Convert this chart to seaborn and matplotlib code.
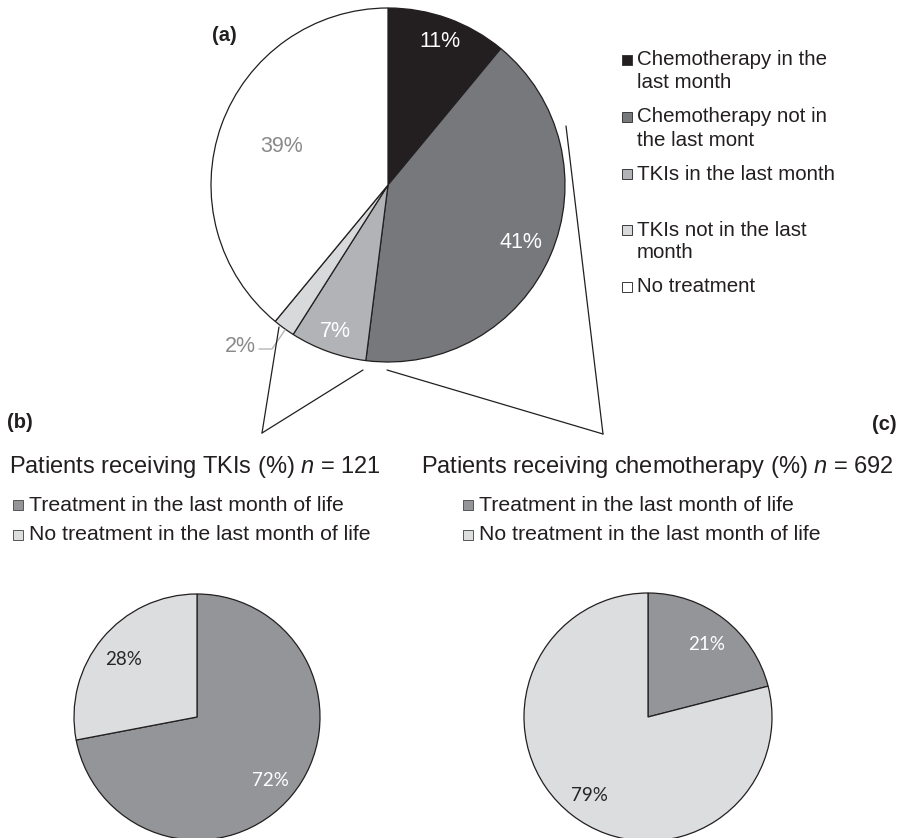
import matplotlib
matplotlib.use("Agg")
import numpy as np
import matplotlib.pyplot as plt
from matplotlib.patches import Rectangle
import seaborn as sns

# ---------------- data ----------------
main_labels = ["Chemotherapy in the\nlast month", "Chemotherapy not in\nthe last mont",
               "TKIs in the last month", "TKIs not in the last\nmonth", "No treatment"]
main_values = [11, 41, 7, 2, 39]
main_colors = ["#231f20", "#77787b", "#b1b3b6", "#d8d9db", "#ffffff"]
main_pct_colors = ["white", "white", "white", "#8a8a8c", "#8a8a8c"]

sub_labels = ["Treatment in the last month of life", "No treatment in the last month of life"]
tki_values = [72, 28]
chemo_values = [21, 79]
sub_colors = ["#939598", "#dcdddf"]
sub_pct_colors = ["white", "#262626"]

title_b = "Patients receiving TKIs (%) $\\it{n}$ = 121"
title_c = "Patients receiving chemotherapy (%) $\\it{n}$ = 692"

sns.set_theme(style="white")
plt.rcParams['font.family'] = ['Liberation Sans', 'DejaVu Sans']
plt.rcParams['mathtext.fontset'] = 'custom'
plt.rcParams['mathtext.it'] = 'Liberation Sans:italic'
plt.rcParams['mathtext.rm'] = 'Liberation Sans'

W, H = 909, 838
fig = plt.figure(figsize=(W / 100, H / 100), dpi=100)
ax = fig.add_axes([0, 0, 1, 1])


def Y(y):
    return H - y


wp = dict(edgecolor="#231f20", linewidth=0.9)

main_c, main_r = (388, Y(185)), 177
b_c, b_r = (197, Y(717)), 123
c_c, c_r = (648, Y(717)), 124

w_main, _ = ax.pie(main_values, colors=main_colors, startangle=90, counterclock=False,
                   center=main_c, radius=main_r, wedgeprops=wp)
w_b, _ = ax.pie(tki_values, colors=sub_colors, startangle=90, counterclock=False,
                center=b_c, radius=b_r, wedgeprops=wp)
w_c, _ = ax.pie(chemo_values, colors=sub_colors, startangle=90, counterclock=False,
                center=c_c, radius=c_r, wedgeprops=wp)

ax.set_xlim(0, W)
ax.set_ylim(0, H)
ax.set_aspect("auto")
ax.axis("off")


def label_pos(w, frac):
    a = np.deg2rad((w.theta1 + w.theta2) / 2)
    cx, cy = w.center
    return cx + frac * w.r * np.cos(a), cy + frac * w.r * np.sin(a)


# percentage labels main pie
pfs = 15.5
main_frac = [0.86, 0.82, 0.88, None, 0.64]
for w, v, col, f in zip(w_main, main_values, main_pct_colors, main_frac):
    if f is None:
        continue
    x, y = label_pos(w, f)
    ax.text(x, y, f"{v}%", color=col, fontsize=pfs, ha="center", va="center")
# small slice: outside label with leader line
ax.text(256, Y(346), f"{main_values[3]}%", color=main_pct_colors[3], fontsize=pfs, ha="right", va="center")
ax.plot([259, 272, 285], [Y(349), Y(349), Y(330)], color="#b5b5b5", lw=1.0)

# connector lines
lc = dict(color="#231f20", lw=0.9)
ax.plot([279, 262], [Y(327), Y(433)], **lc)
ax.plot([363, 262], [Y(370), Y(433)], **lc)
ax.plot([387, 603], [Y(370), Y(434)], **lc)
ax.plot([566, 603], [Y(126), Y(434)], **lc)

# main legend
lfs = 14.8
rows = [60, 117, 174, 230, 287]
for lab, col, yy in zip(main_labels, main_colors, rows):
    ax.add_patch(Rectangle((622, Y(yy) - 5), 10, 10, facecolor=col, edgecolor="#3a3a3a", lw=0.7))
    for k, line in enumerate(lab.split("\n")):
        ax.text(637, Y(yy + 23 * k), line, fontsize=lfs, ha="left", va="center", color="#231f20")

# panel letters
ax.text(224, Y(36), "(a)", fontsize=14.5, fontweight="bold", ha="center", va="center", color="#231f20")
ax.text(20, Y(422), "(b)", fontsize=14.5, fontweight="bold", ha="center", va="center", color="#231f20")
ax.text(884, Y(424), "(c)", fontsize=14.5, fontweight="bold", ha="center", va="center", color="#231f20")

# titles
ax.text(9, Y(467), title_b, fontsize=17, ha="left", va="center", color="#231f20")
ax.text(894, Y(467), title_c, fontsize=17, ha="right", va="center", color="#231f20")

# sub legends
sfs = 15.3
for x0 in (29, 479):
    for lab, col, yy in zip(sub_labels, sub_colors, [505, 535]):
        ax.add_patch(Rectangle((x0 - 16, Y(yy) - 5), 10, 10, facecolor=col, edgecolor="#555555", lw=0.7))
        ax.text(x0, Y(yy), lab, fontsize=sfs, ha="left", va="center", color="#231f20")

# sub pie labels
bfs = 13.5
bfam = ["Lato", "DejaVu Sans"]
for wedges, vals in ((w_b, tki_values), (w_c, chemo_values)):
    for w, v, col in zip(wedges, vals, sub_pct_colors):
        x, y = label_pos(w, 0.77)
        ax.text(x, y - 3, f"{v}%", fontsize=bfs, family=bfam, color=col, ha="center", va="center")

fig.savefig("out.png", dpi=100, facecolor="white")
